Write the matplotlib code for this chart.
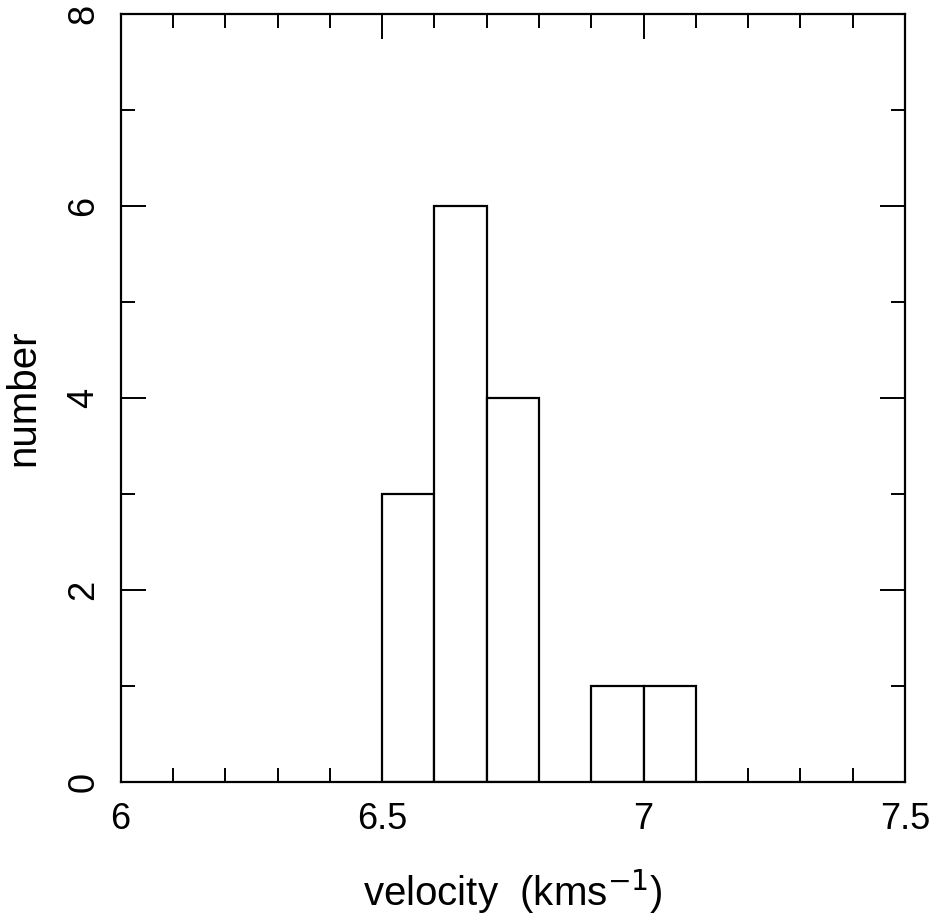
import matplotlib
matplotlib.use("Agg")
import matplotlib.pyplot as plt
from matplotlib.ticker import MultipleLocator

# histogram bins (left edge, width 0.1) and counts
bin_left = [6.5, 6.6, 6.7, 6.9, 7.0]
bin_width = 0.1
counts = [3, 6, 4, 1, 1]

x_ticks = [6, 6.5, 7, 7.5]
x_labels = ["6", "6.5", "7", "7.5"]
y_ticks = [0, 2, 4, 6, 8]

plt.rcParams['font.family'] = ['Liberation Sans', 'DejaVu Sans']

fig = plt.figure(figsize=(9.35, 9.18), dpi=100)
ax = fig.add_axes([0.129, 0.148, 0.839, 0.837])

ax.bar(bin_left, counts, width=bin_width, align='edge',
       facecolor='white', edgecolor='black', linewidth=1.6)

ax.set_xlim(6, 7.5)
ax.set_ylim(0, 8)
ax.set_xticks(x_ticks)
ax.set_xticklabels(x_labels)
ax.set_yticks(y_ticks)
ax.xaxis.set_minor_locator(MultipleLocator(0.1))
ax.yaxis.set_minor_locator(MultipleLocator(1))

ax.tick_params(which='both', direction='in', top=True, right=True,
               width=1.4, labelsize=26, pad=14)
ax.tick_params(which='major', length=18)
ax.tick_params(which='minor', length=10)
for lbl in ax.get_yticklabels():
    lbl.set_rotation(90)
    lbl.set_va('center')

for s in ax.spines.values():
    s.set_linewidth(1.6)

ax.set_xlabel("velocity  (kms$^{-1}$)", fontsize=29, labelpad=22)
ax.set_ylabel("number", fontsize=29, labelpad=17)

fig.savefig("out.png", dpi=100)
